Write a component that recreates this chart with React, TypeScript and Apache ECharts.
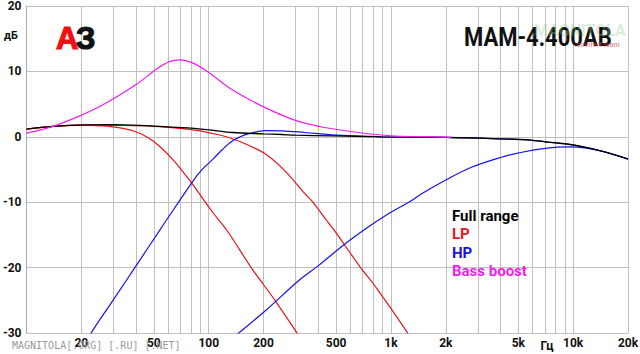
import React, { useEffect, useRef } from 'react';
import * as echarts from 'echarts';

// Full range (black)
const fullRangeFreq = [10, 14, 19.6, 30, 38, 72, 101, 135, 200, 252, 300, 473, 887, 2000, 3112, 5834, 7194, 9253, 11894, 15292, 20000];
const fullRangeDb = [1.17, 1.6, 1.8, 1.85, 1.8, 1.4, 1.05, 0.66, 0.45, 0.35, 0.25, 0.15, 0.0, -0.1, -0.2, -0.5, -0.8, -1.1, -1.65, -2.4, -3.4];

// LP (red) - two curves
const lp1Freq = [10, 14, 20, 26.3, 29.8, 33.8, 38.4, 43.5, 49.3, 55.9, 63.4, 71.9, 81.5, 104.8, 126.5, 173, 231, 312, 360];
const lp1Db = [1.17, 1.6, 1.8, 1.68, 1.53, 1.3, 0.92, 0.31, -0.61, -1.91, -3.44, -5.27, -7.25, -11.5, -14.4, -20.2, -25.0, -30.4, -33];
const lp2Freq = [10, 14, 20, 30, 50, 72, 90, 101, 118, 135, 158.6, 204, 262, 337, 368, 433, 491, 690, 812, 1260, 1400];
const lp2Db = [1.17, 1.6, 1.8, 1.75, 1.6, 1.25, 0.9, 0.6, 0.2, -0.3, -1.07, -2.6, -5.2, -8.7, -9.8, -12.4, -14.4, -20.2, -22.7, -30.4, -33];

// HP (blue) - two curves
const hp1Freq = [20, 22.3, 29.2, 40, 54.7, 83.2, 92.4, 104.8, 118.8, 134.7, 149, 162.6, 204.6, 252, 337, 473, 782, 887, 2000, 3112, 5834, 7194, 9253, 11894, 15292, 20000];
const hp1Db = [-33.2, -30.3, -25.4, -19.7, -14.0, -6.5, -4.95, -3.5, -1.95, -0.65, 0.0, 0.4, 0.95, 0.92, 0.66, 0.3, 0.08, 0.0, -0.1, -0.2, -0.5, -0.8, -1.1, -1.65, -2.4, -3.4];
const hp2Freq = [120, 140.4, 204.6, 311, 400, 559, 750, 964, 1292, 1466, 2048, 2746, 4002, 5146, 7194, 9253, 11894, 15292, 20000];
const hp2Db = [-32, -30.4, -26.6, -22.0, -19.7, -16.4, -13.8, -11.8, -9.77, -8.75, -6.46, -4.69, -3.16, -2.4, -1.73, -1.53, -1.73, -2.4, -3.4];

// Bass boost (magenta)
const bassFreq = [10, 14, 19.6, 26.3, 40, 51.4, 60.8, 69.5, 81.5, 100.5, 129.2, 166, 213.5, 286, 324.6, 433, 661, 1005, 1500, 2136];
const bassDb = [0.56, 1.6, 3.2, 4.9, 8.0, 10.3, 11.5, 11.75, 11.3, 9.8, 7.5, 5.75, 4.2, 2.7, 2.2, 1.42, 0.66, 0.15, 0.02, -0.08];

// Axis ticks
const gridFreqs = [10, 20, 30, 40, 50, 60, 70, 80, 90, 100, 200, 300, 400, 500, 600, 700, 800, 900, 1000, 2000, 3000, 4000, 5000, 6000, 7000, 8000, 9000, 10000, 20000];
const xTickValues = [10, 20, 50, 100, 200, 500, 1000, 2000, 5000, 10000, 20000];
const xTickLabels = ['10', '20', '50', '100', '200', '500', '1k', '2k', '5k', '10k', '20k'];
const yTickLabels = ['-30', '-20', '-10', '0', '10', '20'];

const legendNames = ['Full range', 'LP', 'HP', 'Bass boost'];
const legendColors = ['#000000', '#e8141c', '#1414e6', '#f01ef0'];

function pairs(f: number[], v: number[]) {
  return f.map((x, i) => [x, v[i]]);
}

export default function App() {
  const ref = useRef<HTMLDivElement>(null);
  useEffect(() => {
    document.body.style.margin = '0';
    const chart = echarts.init(ref.current!, null, { renderer: 'svg' });
    const labelFont = { fontFamily: 'Roboto', fontWeight: 'bold' as const, fontSize: 12, color: '#111' };
    const markData = gridFreqs.map((f) => {
      const li = xTickValues.indexOf(f);
      return {
        xAxis: f,
        lineStyle: f === 10 ? { opacity: 0 } : { color: '#c0c0c0', width: 1, type: 'solid' },
        label: {
          show: li >= 0,
          position: 'start',
          distance: 4,
          formatter: li >= 0 ? xTickLabels[li] : '',
          ...labelFont,
        },
      };
    });
    const lineBase = { type: 'line', smooth: 0.35, showSymbol: false, symbol: 'none', clip: true, silent: true };
    const option: any = {
      animation: false,
      grid: { left: 23, right: 12, top: 4, bottom: 21 },
      xAxis: {
        type: 'log',
        logBase: 10,
        min: 10,
        max: 20000,
        axisLabel: { show: false },
        axisTick: { show: false },
        axisLine: { show: false },
        splitLine: { show: false },
      },
      yAxis: {
        type: 'value',
        min: -30,
        max: 20,
        interval: 10,
        axisLabel: {
          margin: 5,
          ...labelFont,
          formatter: (v: number) => yTickLabels[yTickLabels.indexOf(String(v))],
        },
        axisTick: { show: false },
        axisLine: { show: true, lineStyle: { color: '#9a9a9a', type: 'dotted', width: 1 } },
        splitLine: { show: true, lineStyle: { color: '#c0c0c0', width: 1 } },
      },
      series: [
        {
          ...lineBase,
          name: 'LP',
          data: pairs(lp1Freq, lp1Db),
          lineStyle: { color: legendColors[1], width: 1.2 },
          z: 2,
          markLine: {
            silent: true,
            symbol: 'none',
            z: 1,
            animation: false,
            data: markData,
          },
        },
        { ...lineBase, name: 'LP2', data: pairs(lp2Freq, lp2Db), lineStyle: { color: legendColors[1], width: 1.2 }, z: 2 },
        { ...lineBase, name: 'HP', data: pairs(hp1Freq, hp1Db), lineStyle: { color: legendColors[2], width: 1.2 }, z: 3 },
        { ...lineBase, name: 'HP2', data: pairs(hp2Freq, hp2Db), lineStyle: { color: legendColors[2], width: 1.2 }, z: 3 },
        { ...lineBase, name: 'Full range', data: pairs(fullRangeFreq, fullRangeDb), lineStyle: { color: legendColors[0], width: 1.3 }, z: 4 },
        { ...lineBase, name: 'Bass boost', data: pairs(bassFreq, bassDb), lineStyle: { color: legendColors[3], width: 1.2 }, z: 5 },
      ],
      graphic: [
        { type: 'text', x: 11, y: 35, z: 10, style: { text: 'дБ', font: 'bold 11px Roboto', fill: '#111', align: 'center', verticalAlign: 'middle' } },
        { type: 'text', x: 547, y: 346, z: 10, style: { text: 'Гц', font: 'bold 12px Roboto', fill: '#111', align: 'center', verticalAlign: 'middle' } },
        {
          type: 'text', x: 56, y: 38, z: 10,
          style: { text: 'А', font: 'bold 31px "Liberation Sans"', fill: '#ee1111', stroke: '#ee1111', lineWidth: 1.2, align: 'left', verticalAlign: 'middle', shadowColor: 'rgba(0,0,0,0.6)', shadowBlur: 3, shadowOffsetX: 2, shadowOffsetY: 2 },
        },
        {
          type: 'text', x: 76, y: 38, z: 11,
          style: { text: 'З', font: 'bold 31px "Liberation Sans"', fill: '#111', stroke: '#111', lineWidth: 1.2, align: 'left', verticalAlign: 'middle', shadowColor: 'rgba(0,0,0,0.5)', shadowBlur: 3, shadowOffsetX: 2, shadowOffsetY: 2 },
        },
        {
          type: 'text', x: 464, y: 38, z: 10, scaleX: 0.88, originX: 0, originY: 0,
          style: { text: 'MAM-4.400AB', font: 'bold 25px Roboto', fill: '#111', align: 'left', verticalAlign: 'middle' },
        },
        { type: 'text', x: 580, y: 30, z: 12, style: { text: 'MAGNITOLA', font: 'bold 16px Roboto', fill: 'rgba(150,200,150,0.35)', align: 'center', verticalAlign: 'middle' } },
        { type: 'text', x: 598, y: 45, z: 12, style: { text: 'comfort team', font: 'bold 7px Roboto', fill: 'rgba(220,80,80,0.6)', align: 'center', verticalAlign: 'middle' } },
        { type: 'text', x: 12, y: 345, z: 10, style: { text: 'MAGNITOLA[.ORG] [.RU] [.NET]', font: '10px "DejaVu Sans Mono"', fill: '#9a9a9a', align: 'left', verticalAlign: 'middle' } },
        ...legendNames.map((n, i) => ({
          type: 'text', x: 452, y: 216 + i * 18.3, z: 10,
          style: { text: n, font: 'bold 15px Roboto', fill: legendColors[i], align: 'left', verticalAlign: 'middle' },
        })),
      ],
    };
    chart.setOption(option);
    return () => chart.dispose();
  }, []);
  return <div ref={ref} style={{ position: 'absolute', left: 0, top: 0, width: 640, height: 354, background: '#fff' }} />;
}
